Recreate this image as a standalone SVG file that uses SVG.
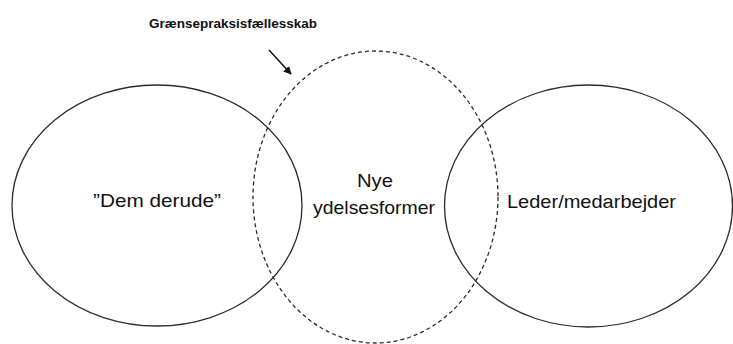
<svg xmlns="http://www.w3.org/2000/svg" width="733" height="344" viewBox="0 0 733 344">
  <style>
    .ring { fill: none; stroke: #2b2b2b; stroke-width: 1.3; }
    .dashed { fill: none; stroke: #2b2b2b; stroke-width: 1.3; stroke-dasharray: 4 3; }
    .label { font-family: "Liberation Sans", Arial, sans-serif; font-size: 19px; fill: #111; }
    .title { font-family: "Liberation Sans", Arial, sans-serif; font-size: 13px; font-weight: bold; fill: #111; }
  </style>
  <defs>
    <marker id="arrowhead" viewBox="0 0 10 10" refX="9" refY="5" markerWidth="8" markerHeight="8" markerUnits="userSpaceOnUse" orient="auto">
      <path d="M0,0 L10,5 L0,10 Z" fill="#111"/>
    </marker>
  </defs>
  <rect width="733" height="344" fill="#fff"/>

  <g id="outside">
    <ellipse class="ring" cx="157" cy="205.5" rx="145" ry="120.5"/>
    <text class="label" x="157" y="207" text-anchor="middle" textLength="128" lengthAdjust="spacingAndGlyphs">”Dem derude”</text>
  </g>

  <g id="new-services">
    <ellipse class="dashed" cx="375.5" cy="197" rx="122.5" ry="146"/>
    <text class="label" x="375" y="187" text-anchor="middle" textLength="36" lengthAdjust="spacingAndGlyphs">Nye</text>
    <text class="label" x="374" y="214" text-anchor="middle" textLength="122" lengthAdjust="spacingAndGlyphs">ydelsesformer</text>
  </g>

  <g id="staff">
    <ellipse class="ring" cx="588.5" cy="206" rx="144" ry="121"/>
    <text class="label" x="591.5" y="208" text-anchor="middle" textLength="169" lengthAdjust="spacingAndGlyphs">Leder/medarbejder</text>
  </g>

  <g id="boundary-label">
    <text class="title" x="149" y="28" textLength="168" lengthAdjust="spacingAndGlyphs">Grænsepraksisfællesskab</text>
  </g>

  <g id="connectors">
    <line x1="269" y1="50" x2="291" y2="74" stroke="#111" stroke-width="1.5" marker-end="url(#arrowhead)"/>
  </g>
</svg>
